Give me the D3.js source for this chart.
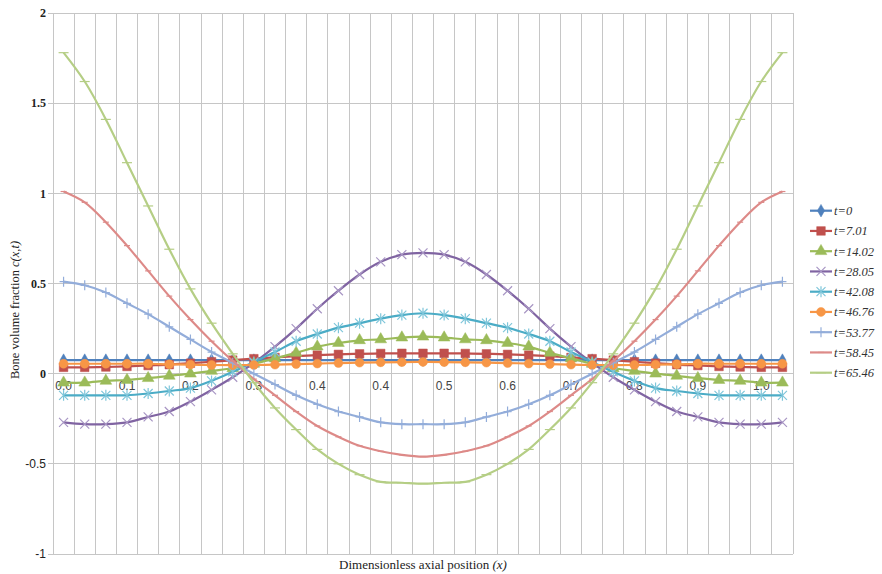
<!DOCTYPE html>
<html><head><meta charset="utf-8">
<script src="https://cdn.jsdelivr.net/npm/d3@7"></script>
<style>body{margin:0;background:#fff;} svg{display:block;}</style>
</head><body>
<svg id="chart" width="882" height="574"></svg>
<script>
const categories = [0,0.03,0.06,0.09,0.12,0.15,0.18,0.21,0.24,0.27,0.30,0.33,0.36,0.39,0.42,0.45,0.48,0.51,0.54,0.57,0.60,0.63,0.66,0.69,0.72,0.75,0.78,0.81,0.84,0.87,0.90,0.93,0.96,0.99,1.02];
const tickLabels = ["0.0","0.1","0.2","0.3","0.4","0.4","0.5","0.6","0.7","0.8","0.9","1.0"];
const yTicks = [2,1.5,1,0.5,0,-0.5,-1];
const seriesNames = ["t=0","t=7.01","t=14.02","t=28.05","t=42.08","t=46.76","t=53.77","t=58.45","t=65.46"];
const t0    = [0.075,0.075,0.075,0.075,0.075,0.075,0.075,0.075,0.075,0.075,0.075,0.075,0.075,0.075,0.075,0.075,0.075,0.075,0.075,0.075,0.075,0.075,0.075,0.075,0.075,0.075,0.075,0.075,0.075,0.075,0.075,0.075,0.075,0.075,0.075];
const t7    = [0.035,0.035,0.037,0.04,0.045,0.05,0.058,0.066,0.075,0.083,0.09,0.097,0.103,0.107,0.11,0.112,0.113,0.113,0.113,0.112,0.11,0.107,0.103,0.097,0.09,0.083,0.075,0.066,0.058,0.05,0.045,0.04,0.037,0.035,0.035];
const t14   = [-0.05,-0.05,-0.04,-0.035,-0.025,-0.012,0.0,0.015,0.03,0.055,0.085,0.115,0.15,0.17,0.185,0.19,0.2,0.205,0.2,0.19,0.185,0.17,0.15,0.115,0.085,0.055,0.03,0.015,0.0,-0.012,-0.025,-0.035,-0.04,-0.05,-0.05];
const t28   = [-0.27,-0.28,-0.28,-0.27,-0.24,-0.21,-0.155,-0.09,-0.02,0.06,0.15,0.25,0.36,0.46,0.55,0.62,0.66,0.67,0.66,0.62,0.55,0.46,0.36,0.25,0.15,0.06,-0.02,-0.09,-0.155,-0.21,-0.24,-0.27,-0.28,-0.28,-0.27];
const t42   = [-0.12,-0.12,-0.12,-0.12,-0.11,-0.096,-0.08,-0.04,0.01,0.065,0.12,0.18,0.22,0.255,0.28,0.305,0.325,0.335,0.325,0.305,0.28,0.255,0.22,0.18,0.12,0.065,0.01,-0.04,-0.08,-0.096,-0.11,-0.12,-0.12,-0.12,-0.12];
const t46   = [0.055,0.055,0.055,0.055,0.055,0.052,0.05,0.048,0.047,0.048,0.05,0.053,0.056,0.059,0.061,0.063,0.064,0.065,0.064,0.063,0.061,0.059,0.056,0.053,0.05,0.048,0.047,0.048,0.05,0.052,0.055,0.055,0.055,0.055,0.055];
const t53   = [0.51,0.49,0.45,0.39,0.33,0.26,0.19,0.12,0.06,0.0,-0.06,-0.12,-0.17,-0.21,-0.24,-0.27,-0.28,-0.28,-0.28,-0.27,-0.24,-0.21,-0.17,-0.12,-0.06,0.0,0.06,0.12,0.19,0.26,0.33,0.39,0.45,0.49,0.51];
const t58   = [1.01,0.95,0.84,0.71,0.57,0.43,0.3,0.18,0.07,-0.03,-0.12,-0.21,-0.29,-0.35,-0.4,-0.43,-0.45,-0.46,-0.45,-0.43,-0.4,-0.35,-0.29,-0.21,-0.12,-0.03,0.07,0.18,0.3,0.43,0.57,0.71,0.84,0.95,1.01];
const t65   = [1.78,1.62,1.41,1.17,0.93,0.69,0.47,0.28,0.11,-0.05,-0.19,-0.31,-0.42,-0.5,-0.56,-0.6,-0.605,-0.61,-0.605,-0.6,-0.56,-0.5,-0.42,-0.31,-0.19,-0.05,0.11,0.28,0.47,0.69,0.93,1.17,1.41,1.62,1.78];
const seriesValues = [t0,t7,t14,t28,t42,t46,t53,t58,t65];
const colors = ["#4F81BD","#C0504D","#9BBB59","#8064A2","#4BACC6","#F79646","#93ADDA","#DD8A88","#B5CE85"];
const markerColors = ["#4F81BD","#C0504D","#9BBB59","#A896C4","#7FC6DA","#F79646","#93ADDA","#DD8A88","#B5CE85"];
const markers = ["diamond","square","triangle","x","asterisk","circle","plus","dashS","dashL"];

const svg = d3.select("#chart");
const L = 53, R = 793, T = 13, B = 554;
const x = d3.scaleBand().domain(d3.range(categories.length)).range([L, R]).padding(0);
const cx = i => x(i) + x.bandwidth()/2;
const y = d3.scaleLinear().domain([-1, 2]).range([B, T]);

// gridlines
const grid = svg.append("g");
grid.selectAll("line.v").data(d3.range(categories.length + 1)).join("line")
  .attr("x1", i => i < categories.length ? x(i) : R).attr("x2", i => i < categories.length ? x(i) : R)
  .attr("y1", T).attr("y2", B).attr("stroke", "#c6c6c6").attr("stroke-width", 1).attr("shape-rendering","crispEdges");
grid.selectAll("line.h").data(yTicks).join("line")
  .attr("x1", L - 5).attr("x2", R).attr("y1", d => y(d)).attr("y2", d => y(d))
  .attr("stroke", "#c6c6c6").attr("stroke-width", 1).attr("shape-rendering","crispEdges");

// y tick labels
svg.append("g").selectAll("text").data(yTicks).join("text")
  .attr("x", 46).attr("y", d => y(d)).attr("dy", "0.35em").attr("text-anchor", "end")
  .attr("font-family", d => d >= 0 ? "Liberation Serif" : "Liberation Sans")
  .attr("font-weight", d => d >= 0 ? "bold" : "normal")
  .attr("font-size", 12).attr("fill", "#222").text(d => d);

// x axis tick labels (every 3rd category) sitting just under the zero line
const xAxis = d3.axisBottom(x)
  .tickValues(d3.range(0, categories.length, 3))
  .tickFormat((d, i) => tickLabels[i]).tickSize(0).tickPadding(0);
const xg = svg.append("g").attr("transform", `translate(0,${y(0) + 8})`).call(xAxis);
xg.select(".domain").remove();
xg.selectAll("text").attr("font-family", "Liberation Sans").attr("font-size", 12).attr("fill", "#444").attr("dy", "0.71em");

// lines and markers
const line = d3.line().x((d, i) => cx(i)).y(d => y(d)).curve(d3.curveCatmullRom.alpha(0.5));

function markerPath(type) {
  switch (type) {
    case "diamond": return d3.symbol(d3.symbolDiamond, 46)();
    case "square": return "M-4.3,-4.3H4.3V4.3H-4.3Z";
    case "triangle": return d3.symbol(d3.symbolTriangle, 60)();
    case "circle": return d3.symbol(d3.symbolCircle, 62)();
    case "x": return "M-4.5,-4.5L4.5,4.5M-4.5,4.5L4.5,-4.5";
    case "asterisk": return "M-4.5,-4.5L4.5,4.5M-4.5,4.5L4.5,-4.5M0,-5.5V5.5";
    case "plus": return "M0,-5V5M-4,0H4";
    case "dashS": return "M-3,0H3";
    case "dashL": return "M-5,0H5";
  }
}
const filled = t => ["diamond","square","triangle","circle"].includes(t);

seriesValues.forEach((vals, s) => {
  const g = svg.append("g");
  g.append("path").datum(vals).attr("d", line).attr("fill", "none")
    .attr("stroke", colors[s]).attr("stroke-width", 2.2);
  g.selectAll("path.m").data(vals).join("path").attr("class", "m")
    .attr("transform", (d, i) => `translate(${cx(i)},${y(d)})`)
    .attr("d", markerPath(markers[s]))
    .attr("fill", filled(markers[s]) ? markerColors[s] : "none")
    .attr("stroke", markerColors[s]).attr("stroke-width", filled(markers[s]) ? 0.5 : 1.2);
});

// legend
const lg = svg.append("g");
seriesNames.forEach((name, s) => {
  const ly = 210.7 + s * 20.25;
  lg.append("line").attr("x1", 810).attr("x2", 832).attr("y1", ly).attr("y2", ly)
    .attr("stroke", colors[s]).attr("stroke-width", 2.2);
  lg.append("path").attr("transform", `translate(821,${ly})`).attr("d", markerPath(markers[s]))
    .attr("fill", filled(markers[s]) ? markerColors[s] : "none")
    .attr("stroke", markerColors[s]).attr("stroke-width", filled(markers[s]) ? 0.5 : 1.2);
  lg.append("text").attr("x", 834).attr("y", ly).attr("dy", "0.35em")
    .attr("font-family", "Liberation Serif").attr("font-style", "italic")
    .attr("font-size", 12.5).attr("fill", "#333").text(name);
});

// axis titles
const xt = svg.append("text").attr("x", 423).attr("y", 569).attr("text-anchor", "middle")
  .attr("font-family", "Liberation Serif").attr("font-size", 13).attr("fill", "#222");
xt.append("tspan").text("Dimensionless  axial  position ");
xt.append("tspan").attr("font-style", "italic").text("(x)");

const yt = svg.append("text").attr("transform", "translate(19,310) rotate(-90)").attr("text-anchor", "middle")
  .attr("font-family", "Liberation Serif").attr("font-size", 12.5).attr("fill", "#222");
yt.append("tspan").text("Bone volume  fraction  ");
yt.append("tspan").attr("font-style", "italic").text("c(x,t)");
</script>
</body></html>
